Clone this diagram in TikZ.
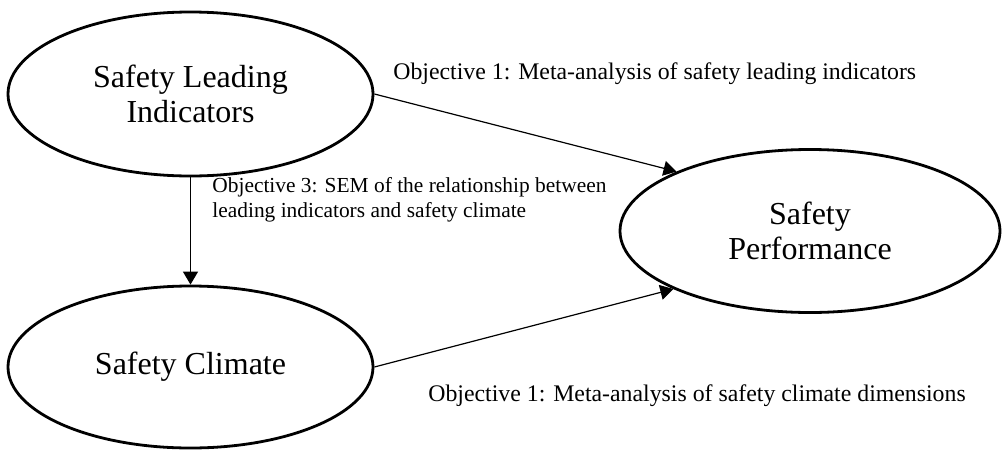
\documentclass[tikz,border=0pt]{standalone}
\usepackage{fontspec}
\setmainfont{Liberation Serif}
\usepackage{tikz}
\usetikzlibrary{arrows.meta, positioning, shapes.geometric}

\begin{document}
\begin{tikzpicture}[
    x=0.5pt, y=-0.5pt,
    every node/.style={font=\fontsize{10.7}{12.5}\selectfont},
    construct/.style={draw, ellipse, line width=1.4pt, inner sep=0pt,
                      align=center, font=\fontsize{16}{17.5}\selectfont},
    link/.style={line width=0.6pt, -{Triangle[length=6.5pt, width=7.5pt]}},
    objective/.style={align=left, inner sep=0pt},
    mainobj/.style={objective, font=\fontsize{11.9}{13}\selectfont},
]
\useasboundingbox (0,0) rectangle (1002,450);

% --- Constructs (ellipses) ---
\node[construct, minimum width=182.5pt, minimum height=82pt]
    (lead) at (190.5,94) {Safety Leading\\Indicators};
\node[construct, minimum width=182.5pt, minimum height=81pt]
    (climate) at (190.5,367) {Safety Climate};
\node[construct, minimum width=190pt, minimum height=81.5pt]
    (perf) at (810,231) {Safety\\Performance};

% --- Paths between constructs ---
\draw[link] (lead.east) -- (perf.156);
\draw[link] (climate.east) -- (perf.203);
\draw[link] (lead.south) -- (climate.north);

% --- Objective labels ---
\node[mainobj, anchor=base west] (objlead) at (393,79)
    {Objective 1: Meta-analysis of safety leading indicators};
\node[objective, anchor=base west] (objsem) at (212,217)
    {Objective 3: SEM of the relationship between\\
     leading indicators and safety climate};
\node[mainobj, anchor=base west] (objclimate) at (428,401)
    {Objective 1: Meta-analysis of safety climate dimensions};
\end{tikzpicture}
\end{document}
